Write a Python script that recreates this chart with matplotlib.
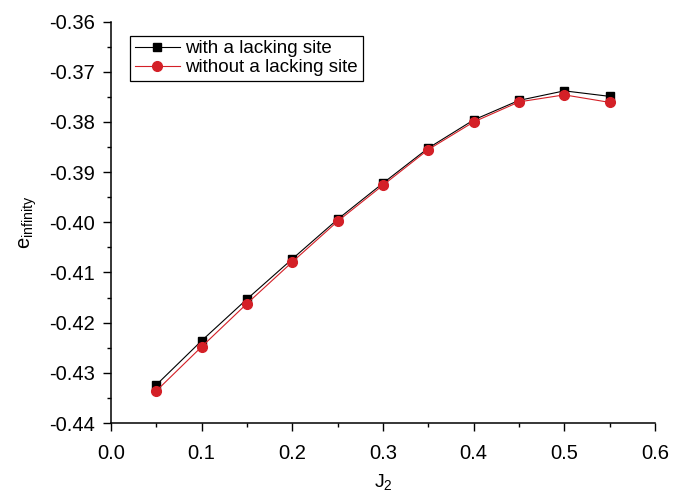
import matplotlib

matplotlib.use("Agg")
import matplotlib.pyplot as plt
from matplotlib.ticker import MultipleLocator

plt.rcParams["font.family"] = ["Liberation Sans", "DejaVu Sans"]

j2 = [0.05, 0.10, 0.15, 0.20, 0.25, 0.30, 0.35, 0.40, 0.45, 0.50, 0.55]
e_with = [-0.4324, -0.4236, -0.4153, -0.4073, -0.3994, -0.3922, -0.3852,
          -0.3796, -0.3757, -0.3738, -0.3749]
e_without = [-0.4336, -0.4248, -0.4162, -0.4079, -0.3998, -0.3926, -0.3855,
             -0.3800, -0.3760, -0.3746, -0.3761]

fig = plt.figure(figsize=(6.83, 4.98), dpi=100)
ax = fig.add_axes([0.1625, 0.1506, 0.7965, 0.806])

ax.plot(j2, e_with, color="black", lw=0.8, marker="s", ms=6,
        label="with a lacking site")
ax.plot(j2, e_without, color="#d42027", lw=0.8, marker="o", ms=7,
        label="without a lacking site")

ax.set_xlim(0.0, 0.6)
ax.set_ylim(-0.44, -0.36)
ax.xaxis.set_major_locator(MultipleLocator(0.1))
ax.xaxis.set_minor_locator(MultipleLocator(0.05))
ax.yaxis.set_major_locator(MultipleLocator(0.01))
ax.yaxis.set_minor_locator(MultipleLocator(0.005))
ax.xaxis.set_major_formatter(lambda v, p: f"{v:.1f}")
ax.yaxis.set_major_formatter(lambda v, p: f"{v:.2f}")

for s in ("top", "right"):
    ax.spines[s].set_visible(False)
for s in ("left", "bottom"):
    ax.spines[s].set_linewidth(1.1)
ax.tick_params(which="both", direction="out", labelsize=14.5, width=1.0)
ax.tick_params(which="major", length=5.8)
ax.tick_params(which="minor", length=3)
ax.tick_params(axis="x", which="major", pad=9)
ax.tick_params(axis="y", which="major", pad=6)

ax.set_xlabel("J$_\\mathregular{2}$", fontsize=14, labelpad=7)
ax.set_ylabel("e$_\\mathregular{infinity}$", fontsize=14.5, labelpad=7)

leg = ax.legend(loc="upper left", bbox_to_anchor=(0.035, 0.965), fontsize=13.5,
                fancybox=False, edgecolor="black", framealpha=1,
                handlelength=2.4, borderpad=0.25, labelspacing=0.08,
                handletextpad=0.3, borderaxespad=0)
leg.get_frame().set_linewidth(0.9)

fig.savefig("out.png", dpi=100)
